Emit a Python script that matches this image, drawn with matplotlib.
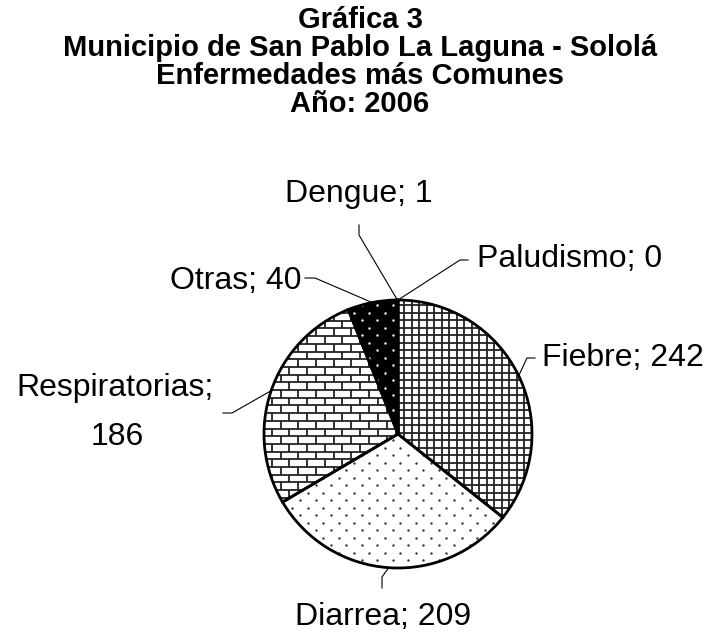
import numpy as np
import matplotlib
matplotlib.use("Agg")
import matplotlib.pyplot as plt
from matplotlib.patches import Wedge
from matplotlib.collections import LineCollection

plt.rcParams['font.family'] = ['Liberation Sans', 'DejaVu Sans']

categorias = ['Paludismo', 'Fiebre', 'Diarrea', 'Respiratorias', 'Otras', 'Dengue']
casos = [0, 242, 209, 186, 40, 1]
titulo = ['Gráfica 3',
          'Municipio de San Pablo La Laguna - Sololá',
          'Enfermedades más Comunes',
          'Año: 2006']

# layout in pixels (axes = whole figure, y down)
cx, cy, r = 398, 434, 134
etiquetas = {
    # x, y_baseline, ha, codo, fin
    'Paludismo': (477, 267, 'left', (460, 260), (468, 260)),
    'Fiebre': (542, 366, 'left', (527, 358), (535, 358)),
    'Diarrea': (383, 625, 'center', (382, 577), (382, 588)),
    'Respiratorias': (115, 396, 'center', (232, 413), (223, 413)),
    'Otras': (302, 289, 'right', (315, 278), (305, 278)),
    'Dengue': (285, 202, 'left', (359, 235), (359, 225)),
}

fig = plt.figure(figsize=(7.12, 6.33), dpi=100)
ax = fig.add_axes([0, 0, 1, 1])

wedges, _ = ax.pie(casos, center=(cx, cy), radius=r, startangle=-90,
                   counterclock=True, colors=['none'] * len(casos),
                   wedgeprops=dict(edgecolor='black', linewidth=2.0, zorder=5))
ax.set_xlim(0, 712)
ax.set_ylim(633, 0)
ax.set_aspect('equal')
ax.axis('off')

# textures clipped to each wedge
x0, x1 = cx - r - 10, cx + r + 10
y0, y1 = cy - r - 10, cy + r + 10


def rejilla(w, paso=7.5):
    segs = [[(x, y0), (x, y1)] for x in np.arange(x0, x1, paso)]
    segs += [[(x0, y), (x1, y)] for y in np.arange(y0, y1, paso)]
    lc = LineCollection(segs, colors='#222222', linewidths=1.3, zorder=2)
    ax.add_collection(lc)
    lc.set_clip_path(w)


def ladrillos(w, alto=7.7, ancho=17.7):
    segs = []
    for i, y in enumerate(np.arange(y0, y1, alto)):
        segs.append([(x0, y), (x1, y)])
        off = (i % 2) * ancho / 2
        for x in np.arange(x0 + off, x1, ancho):
            segs.append([(x, y), (x, y + alto)])
    lc = LineCollection(segs, colors='#222222', linewidths=1.3, zorder=2)
    ax.add_collection(lc)
    lc.set_clip_path(w)


def puntos(w, color, dx=15.4, dy=7.5):
    xs, ys = [], []
    for i, y in enumerate(np.arange(y0, y1, dy)):
        off = (i % 2) * dx / 2
        for x in np.arange(x0 + off, x1, dx):
            xs.append(x)
            ys.append(y)
    sc = ax.scatter(xs, ys, s=3, c=color, linewidths=0, zorder=2)
    sc.set_clip_path(w)


for w, cat in zip(wedges, categorias):
    if cat == 'Fiebre':
        rejilla(w)
    elif cat == 'Diarrea':
        puntos(w, '#333333')
    elif cat == 'Respiratorias':
        ladrillos(w)
    elif cat == 'Otras':
        ax.add_patch(Wedge((cx, cy), r, w.theta1, w.theta2,
                           facecolor='black', edgecolor='none', zorder=1))
        puntos(w, 'white')

# labels and leader lines
for w, cat, n in zip(wedges, categorias, casos):
    tx, ty, ha, codo, fin = etiquetas[cat]
    ang = np.deg2rad((w.theta1 + w.theta2) / 2)
    px, py = cx + r * np.cos(ang), cy + r * np.sin(ang)
    ax.plot([px, codo[0], fin[0]], [py, codo[1], fin[1]], color='black', lw=0.8, zorder=6)
    if cat == 'Respiratorias':
        ax.text(tx, ty, f'{cat};', fontsize=23, ha=ha, va='baseline')
        ax.text(tx + 2, ty + 49, f'{n}', fontsize=23, ha=ha, va='baseline')
    else:
        ax.text(tx, ty, f'{cat}; {n}', fontsize=23, ha=ha, va='baseline')

for i, linea in enumerate(titulo):
    ax.text(360, 28 + i * 28, linea, fontsize=21, fontweight='bold', ha='center', va='baseline')

fig.savefig('out.png', dpi=100)
